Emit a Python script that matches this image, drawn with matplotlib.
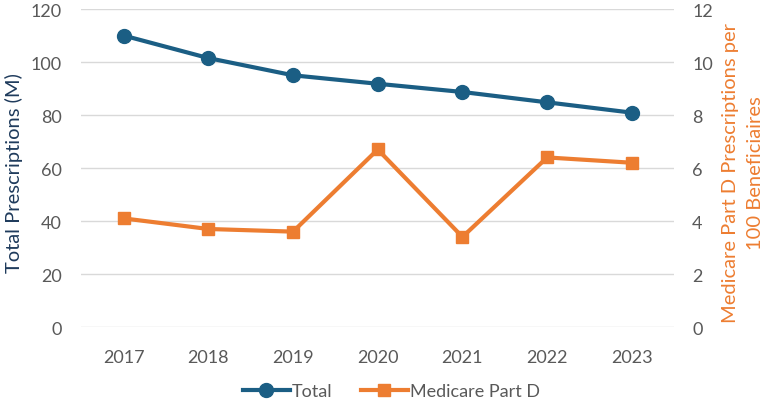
import matplotlib
matplotlib.use("Agg")
import matplotlib.pyplot as plt

plt.rcParams["font.family"] = ["Lato", "DejaVu Sans"]

years = [2017, 2018, 2019, 2020, 2021, 2022, 2023]
total = [110, 101.5, 95, 91.8, 88.7, 84.8, 80.9]
medicare = [4.1, 3.7, 3.6, 6.7, 3.4, 6.4, 6.2]

blue = "#1b5e84"
orange = "#ed7d31"
grey = "#595959"

fig = plt.figure(figsize=(7.67, 4.02), dpi=100)
ax = fig.add_axes([0.106, 0.184, 0.773, 0.791])
ax2 = ax.twinx()

l1, = ax.plot(years, total, color=blue, lw=3, marker="o", ms=10, label="Total", zorder=3)
l2, = ax2.plot(years, medicare, color=orange, lw=3, marker="s", ms=9, label="Medicare Part D", zorder=3)

ax.set_xlim(2016.5, 2023.5)
ax.set_ylim(0, 120)
ax.set_yticks(range(0, 121, 20))
ax2.set_ylim(0, 12)
ax2.set_yticks(range(0, 13, 2))
ax.set_xticks(years)

ax.grid(axis="y", color="#d9d9d9", lw=1)
ax.set_axisbelow(True)
for a in (ax, ax2):
    for s in a.spines.values():
        s.set_visible(False)
    a.tick_params(length=0, labelsize=13, colors=grey)
ax.tick_params(axis="x", pad=16)
ax.tick_params(axis="y", pad=14)
ax2.tick_params(axis="y", pad=13)

fig.text(0.018, 0.57, "Total Prescriptions (M)", rotation=90, ha="center", va="center",
         fontsize=14.5, color="#1f3b5c")
fig.text(0.969, 0.57, "Medicare Part D Prescriptions per\n100 Beneficiaires", rotation=90,
         ha="center", va="center", fontsize=14.5, color=orange, linespacing=1.55)

fig.legend(handles=[l1, l2], loc="center", bbox_to_anchor=(0.51, 0.025), ncol=2,
           frameon=False, fontsize=13, labelcolor=grey, handlelength=2.6,
           columnspacing=1.6, handletextpad=0.1)

fig.savefig("out.png", dpi=100)
